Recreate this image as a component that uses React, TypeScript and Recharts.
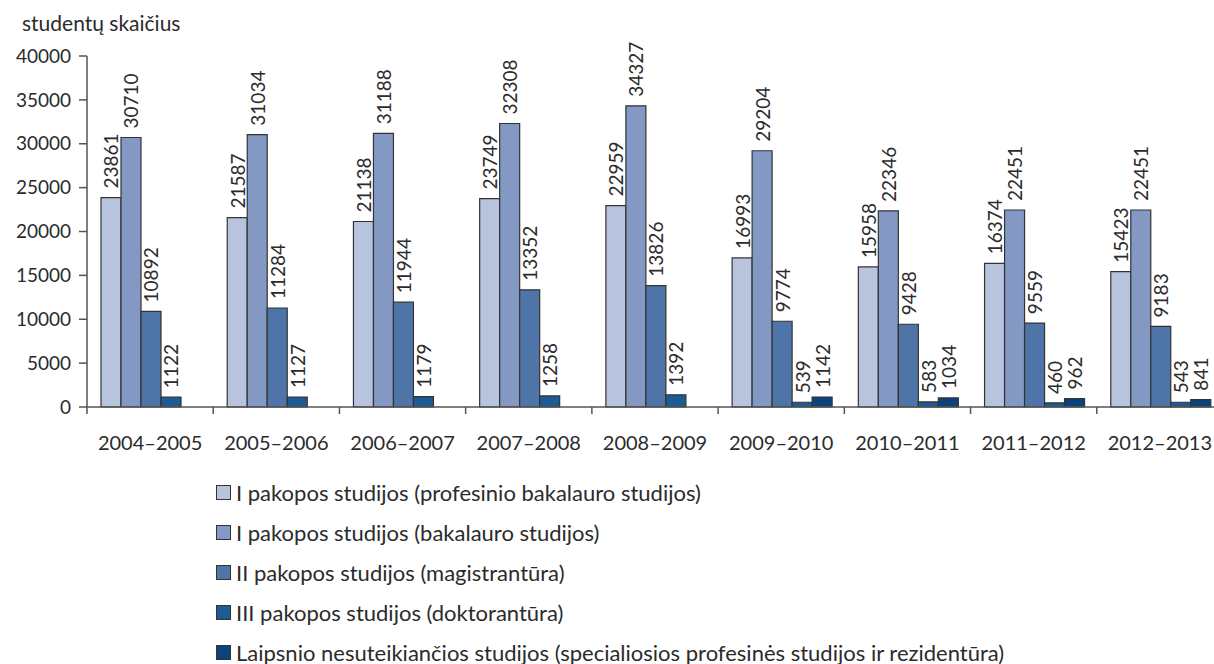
import { BarChart, Bar, XAxis, YAxis, LabelList } from 'recharts'

const years = ['2004–2005', '2005–2006', '2006–2007', '2007–2008', '2008–2009', '2009–2010', '2010–2011', '2011–2012', '2012–2013']
const profBakalauras = [23861, 21587, 21138, 23749, 22959, 16993, 15958, 16374, 15423]
const bakalauras = [30710, 31034, 31188, 32308, 34327, 29204, 22346, 22451, 22451]
const magistrantura = [10892, 11284, 11944, 13352, 13826, 9774, 9428, 9559, 9183]
const doktorantura = [1122, 1127, 1179, 1258, 1392, 539, 583, 460, 543]
const nesuteikiancios = [null, null, null, null, null, 1142, 1034, 962, 841]
const yTicks = [0, 5000, 10000, 15000, 20000, 25000, 30000, 35000, 40000]

const series = [
  { key: 'prof', name: 'I pakopos studijos (profesinio bakalauro studijos)', color: '#b8c4de' },
  { key: 'bak', name: 'I pakopos studijos (bakalauro studijos)', color: '#8399c4' },
  { key: 'mag', name: 'II pakopos studijos (magistrantūra)', color: '#4f75a8' },
  { key: 'dok', name: 'III pakopos studijos (doktorantūra)', color: '#1e5a94' },
  { key: 'nes', name: 'Laipsnio nesuteikiančios studijos (specialiosios profesinės studijos ir rezidentūra)', color: '#0c437c' },
]

const data = years.map((y, i) => ({
  year: y,
  prof: profBakalauras[i],
  bak: bakalauras[i],
  mag: magistrantura[i],
  dok: doktorantura[i],
  nes: nesuteikiancios[i],
}))

const FONT = 'Lato, "Open Sans", sans-serif'
const TEXT = '#2b2b2b'
const AXIS = '#555'

const CHART_W = 1223
const LEFT = 87
const BAND = (CHART_W - LEFT) / years.length

const XTick = (props: any) => {
  const { x, y, payload } = props
  return (
    <g>
      <line x1={x - BAND / 2} x2={x - BAND / 2} y1={y} y2={y + 7} stroke={AXIS} strokeWidth={1.5} />
      <text x={x} y={y + 35} textAnchor="middle" dominantBaseline="central" fill={TEXT} fontSize={20} fontFamily={FONT}>
        {payload.value}
      </text>
    </g>
  )
}

const BarLabel = (props: any) => {
  const { x, y, width, value } = props
  if (value == null) return null
  const cx = x + width / 2
  const ty = y - 9
  return (
    <text
      x={cx}
      y={ty}
      transform={`rotate(-90 ${cx} ${ty})`}
      textAnchor="start"
      dominantBaseline="central"
      fill={TEXT}
      fontSize={19}
      fontFamily={FONT}
    >
      {value}
    </text>
  )
}

export default function App() {
  return (
    <div style={{ position: 'relative', width: 1214, height: 664, overflow: 'hidden', fontFamily: FONT, color: TEXT }}>
      <style>{'body { margin: 0; overflow: hidden; }'}</style>
      <div style={{ position: 'absolute', left: 22, top: 10, fontSize: 21 }}>studentų skaičius</div>
      <BarChart
        width={CHART_W}
        height={478}
        data={data}
        margin={{ top: 56, right: 0, left: 0, bottom: 0 }}
        barCategoryGap={14}
        barGap={0}
      >
        <XAxis
          dataKey="year"
          height={71}
          tickSize={0}
          tickMargin={0}
          tick={<XTick />}
          axisLine={{ stroke: AXIS, strokeWidth: 1.5 }}
          interval={0}
        />
        <YAxis
          width={LEFT}
          domain={[0, 40000]}
          ticks={yTicks}
          interval={0}
          tickSize={8}
          tickMargin={8}
          axisLine={{ stroke: AXIS, strokeWidth: 1.5 }}
          tickLine={{ stroke: AXIS, strokeWidth: 1.5 }}
          tick={{ fill: TEXT, fontSize: 19, fontFamily: FONT }}
        />
        {series.map((s) => (
          <Bar key={s.key} dataKey={s.key} name={s.name} fill={s.color} stroke="#333" strokeWidth={1.2} isAnimationActive={false}>
            <LabelList dataKey={s.key} content={<BarLabel />} />
          </Bar>
        ))}
      </BarChart>
      <div style={{ position: 'absolute', left: 216, top: 472 }}>
        {series.map((s) => (
          <div key={s.key} style={{ display: 'flex', alignItems: 'center', height: 40, fontSize: 22, whiteSpace: 'nowrap' }}>
            <span
              style={{
                display: 'inline-block',
                width: 13,
                height: 13,
                background: s.color,
                border: '1.5px solid #333',
                marginRight: 5,
              }}
            />
            <span>{s.name}</span>
          </div>
        ))}
      </div>
    </div>
  )
}
